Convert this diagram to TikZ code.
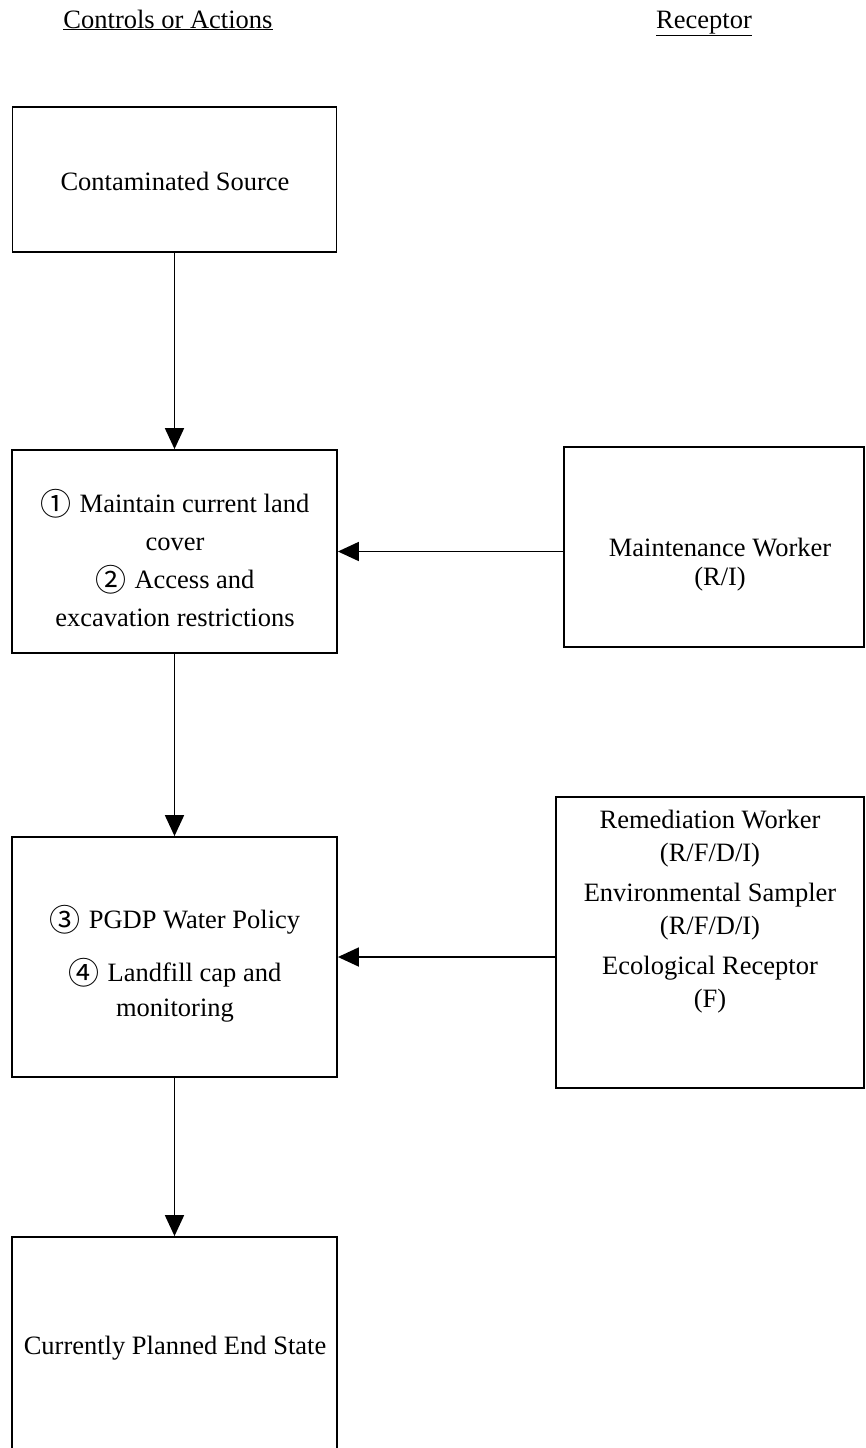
\documentclass[tikz,border=0pt]{standalone}
\usepackage{fontspec}
\setmainfont{Liberation Serif}
\newfontfamily\circfont{Noto Sans CJK SC}
\usetikzlibrary{arrows.meta}
\newcommand\cnum[1]{\raisebox{-3pt}{\smash{\circfont\fontsize{31}{33}\selectfont #1}}\hspace{8pt}}
\begin{document}
\begin{tikzpicture}[x=1pt,y=-1pt,
  box/.style={draw, line width=1.8pt, inner sep=0pt},
  lbl/.style={align=center, inner sep=0pt, font=\fontsize{26.5}{33}\selectfont},
  head/.style={inner sep=0pt, anchor=base, font=\fontsize{26.5}{33}\selectfont},
  flow/.style={-{Triangle[length=21pt,width=19pt]}, line width=1.8pt}]
\useasboundingbox (0,0) rectangle (865,1448);

% column headings
\node[head] (hctl) at (168,28) {\underline{Controls or Actions}};
\node[head] (hrec) at (704,28) {\underline{Receptor}};

% boxes of the left column
\node[box, minimum width=324pt, minimum height=145pt] (src) at (174.5,179.5) {};
\node[box, minimum width=325pt, minimum height=203pt] (ctl) at (174.5,551.5) {};
\node[box, minimum width=325pt, minimum height=240pt] (pol) at (174.5,957) {};
\node[box, minimum width=325pt, minimum height=225pt] (end) at (174.5,1349.5) {};

% receptor boxes
\node[box, minimum width=300pt, minimum height=200pt] (mw) at (714,547) {};
\node[box, minimum width=308pt, minimum height=291pt] (rec) at (710,942.5) {};

% box texts
\node[lbl] (tsrc) at (175,181) {Contaminated Source};
\node[lbl, font=\fontsize{26.5}{38}\selectfont] (tctl) at (175,560)
  {\cnum{①}Maintain current land\\cover\\\cnum{②}Access and\\excavation restrictions};
\node[lbl, font=\fontsize{26.5}{35}\selectfont] (tpol) at (175,966)
  {\cnum{③}PGDP Water Policy\\[18pt]\cnum{④}Landfill cap and\\monitoring};
\node[lbl] (tend) at (175,1348) {Currently Planned End State};
\node[lbl, font=\fontsize{26.5}{29}\selectfont] (tmw) at (720,565) {Maintenance Worker\\(R/I)};
\node[lbl] (trec) at (710,912)
  {Remediation Worker\\(R/F/D/I)\\[7pt]Environmental Sampler\\(R/F/D/I)\\[7pt]Ecological Receptor\\(F)};

% connectors
\draw[flow] (src.south) -- (ctl.north);
\draw[flow] (ctl.south) -- (pol.north);
\draw[flow] (pol.south) -- (end.north);
\draw[flow] (mw.west |- ctl.east) -- (ctl.east);
\draw[flow] (rec.west |- pol.east) -- (pol.east);
\end{tikzpicture}
\end{document}
